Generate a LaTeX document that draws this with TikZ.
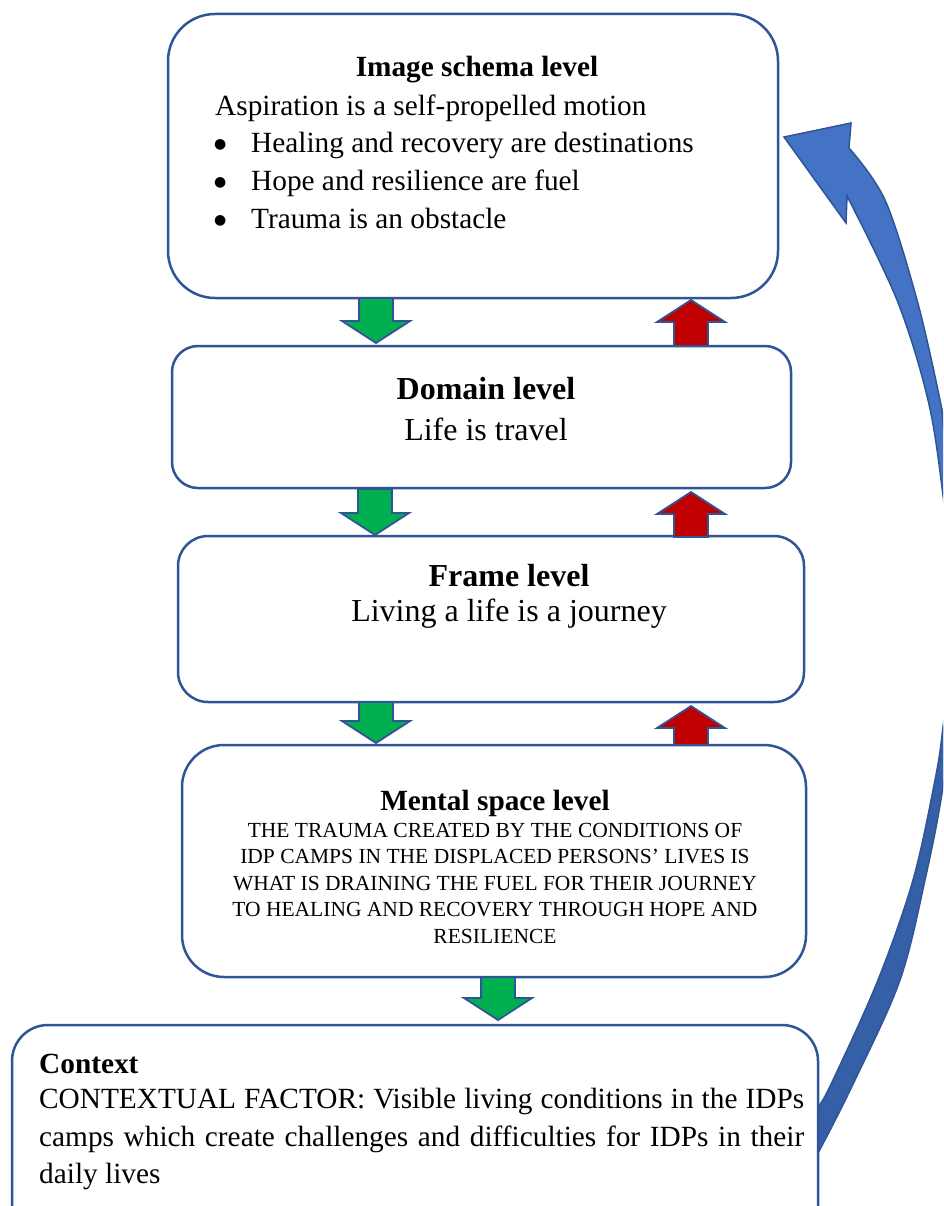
\documentclass[tikz,border=0pt]{standalone}
\usepackage{fontspec}
\setmainfont{Liberation Serif}
\newfontfamily\symfont{DejaVu Sans}
\definecolor{bdr}{HTML}{2F5597}
\definecolor{garr}{HTML}{00B050}
\definecolor{rarr}{HTML}{C00000}
\definecolor{barr}{HTML}{4472C4}
\definecolor{barrdk}{HTML}{3560A8}
\tikzset{
  box/.style={draw=bdr, line width=2.5pt, fill=white, inner sep=0pt, outer sep=0pt},
  blk/.style={draw=bdr, line width=1.8pt, line join=miter},
  tbody/.style={font=\fontsize{29.3}{38}\selectfont, inner sep=0pt},
  tbig/.style={font=\fontsize{32}{40}\selectfont, inner sep=0pt},
  tsmall/.style={font=\fontsize{21.5}{26.5}\selectfont, inner sep=0pt, align=center},
}
\newcommand\bulmark{\llap{\makebox[0pt]{\raisebox{4pt}{\fontsize{14}{14}\symfont ●}}\hspace{31pt}}}
% green down arrow: #1 centre x, #2 top y, #3 length
\newcommand\garrow[3]{\filldraw[blk, fill=garr] (#1-17,#2) -- (#1+17,#2) -- (#1+17,#2+#3-22) -- (#1+34,#2+#3-22) -- (#1,#2+#3) -- (#1-34,#2+#3-22) -- (#1-17,#2+#3-22) -- cycle;}
% red up arrow: #1 centre x, #2 tip y, #3 length
\newcommand\rarrow[3]{\filldraw[blk, fill=rarr] (#1,#2) -- (#1+34,#2+22) -- (#1+17,#2+22) -- (#1+17,#2+#3) -- (#1-17,#2+#3) -- (#1-17,#2+22) -- (#1-34,#2+22) -- cycle;}
\begin{document}
\begin{tikzpicture}[x=1pt,y=-1pt]
\useasboundingbox (0,0) rectangle (943,1206);
\clip (0,0) rectangle (943,1206);

% big curved arrow
\path[save path=\bigarrowpath] plot[smooth, tension=0.55] coordinates {(808,1166) (818,1153) (855,1080) (900,980) (925,880) (944,780) (965,610) (944,430) (940,400) (917,300) (885,200) (849,148)}
  -- (851,123) -- (784,137) -- (846,223)
  -- plot[smooth, tension=0.55] coordinates {(847,196) (897,300) (928,400) (943,495) (955,610) (943,727) (935,780) (913,880) (878,980) (833,1080) (818,1107) (808,1113)} -- cycle;
\fill[barr, use path=\bigarrowpath];
\begin{scope}
  \clip (0,640) rectangle (943,1206);
  \fill[barrdk, use path=\bigarrowpath];
\end{scope}
\draw[bdr, line width=1.5pt, line join=miter, use path=\bigarrowpath];

% boxes
\node[box, minimum width=610, minimum height=284, rounded corners=47] (img) at (473,156) {};
\node[box, minimum width=619, minimum height=142, rounded corners=26] (dom) at (481.5,417) {};
\node[box, minimum width=626, minimum height=166, rounded corners=30] (frm) at (491,619) {};
\node[box, minimum width=624, minimum height=232, rounded corners=42] (men) at (494,861) {};
\node[box, minimum width=806, minimum height=240, rounded corners=36] (ctx) at (415,1145) {};

% block arrows
\garrow{376}{298}{45}
\garrow{375}{489}{46}
\garrow{376}{702}{41}
\garrow{498}{977}{43}
\rarrow{691}{300}{46}
\rarrow{691}{492}{45}
\rarrow{691}{706}{39}

% image schema text
\node[tbody, anchor=base] (t1) at (477,77) {\bfseries Image schema level};
\node[tbody, anchor=base west] (t2) at (215,116) {Aspiration is a self-propelled motion};
\node[tbody, anchor=base west] (l1) at (251,153) {\bulmark Healing and recovery are destinations};
\node[tbody, anchor=base west] (l2) at (251,191) {\bulmark Hope and resilience are fuel};
\node[tbody, anchor=base west] (l3) at (251,229) {\bulmark Trauma is an obstacle};

% domain
\node[tbig, anchor=base] (d1) at (486,399) {\bfseries Domain level};
\node[tbig, anchor=base] (d2) at (486,440) {Life is travel};

% frame
\node[tbig, anchor=base] (f1) at (509,586) {\bfseries Frame level};
\node[tbig, anchor=base] (f2) at (509,621) {Living a life is a journey};

% mental space
\node[tbody, anchor=base] (m1) at (495,810) {\bfseries Mental space level};
\node[tsmall, anchor=north] (m2) at (495,823) {THE TRAUMA CREATED BY THE CONDITIONS OF\\IDP CAMPS IN THE DISPLACED PERSONS’ LIVES IS\\WHAT IS DRAINING THE FUEL FOR THEIR JOURNEY\\TO HEALING AND RECOVERY THROUGH HOPE AND\\RESILIENCE};

% context
\node[tbody, anchor=base west] (c1) at (39,1073) {\bfseries Context};
\node[font=\fontsize{29.3}{37.5}\selectfont, inner sep=0pt, text width=765, align=justify, anchor=north west] (c2) at (39,1088) {CONTEXTUAL FACTOR: Visible living conditions in the IDPs\linebreak camps which create challenges and difficulties for IDPs in their\linebreak daily lives};
\end{tikzpicture}
\end{document}
